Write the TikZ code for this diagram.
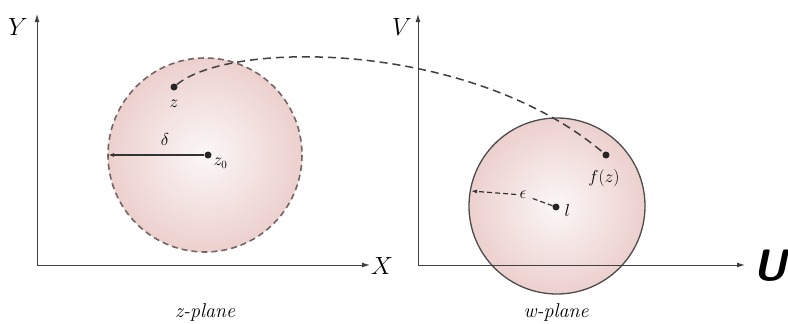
\documentclass[tikz,border=0pt]{standalone}
\usetikzlibrary{arrows.meta}
\definecolor{diskrim}{RGB}{236,208,206}
\definecolor{diskcore}{RGB}{251,247,247}
\definecolor{rimgray}{RGB}{118,100,100}
\tikzset{
	axis/.style={draw=black!75, line width=1pt, -{Latex[length=8pt,width=5pt]}},
	dot/.style={circle, fill=black!85, inner sep=0pt, minimum size=7pt},
	disk/.style={inner color=diskcore, outer color=diskrim},
	biglbl/.style={font=\fontsize{24}{26}\selectfont},
	midlbl/.style={font=\fontsize{18}{20}\selectfont},
	smalllbl/.style={font=\fontsize{16}{18}\selectfont}
}
\begin{document}
\begin{tikzpicture}[x=1pt,y=-1pt]
	\useasboundingbox (0,0) rectangle (788,324);
	% discs
	\shade[disk] (205,155) circle[radius=97];
	\draw[rimgray, line width=1.6pt, dash pattern=on 6pt off 4pt] (205,155) circle[radius=97];
	\shade[disk] (557,206) circle[radius=88];
	\draw[black!70, line width=1.3pt] (557,206) circle[radius=88];
	% axes
	\coordinate (O1) at (37,265);
	\coordinate (O2) at (418,265);
	\draw[axis] (O1) -- (37,14);
	\draw[axis] (O1) -- (370,265);
	\draw[axis] (O2) -- (418,14);
	\draw[axis] (O2) -- (745,265);
	\node[biglbl] (ylab) at (18,27) {$Y$};
	\node[biglbl] (xlab) at (382,266) {$X$};
	\node[biglbl] (vlab) at (402,27) {$V$};
	\node[font=\fontsize{44}{46}\selectfont\sffamily\bfseries\itshape] (ulab) at (770,266) {U};
	% points
	\node[dot] (z) at (174,87) {};
	\node[dot] (z0) at (208,155) {};
	\node[dot] (l) at (556,207) {};
	\node[dot] (fz) at (606,155) {};
	\node[smalllbl] (zlab) at (174,104) {$z$};
	\node[smalllbl, anchor=west] (z0lab) at (210,163) {$z_0$};
	\node[smalllbl] (dlab) at (165,139) {$\delta$};
	\node[smalllbl] (elab) at (523,195) {$\epsilon$};
	\node[smalllbl, anchor=west] (llab) at (561,210) {$l$};
	\node[midlbl] (fzlab) at (604,178) {$f(z)$};
	% radii
	\coordinate (dl) at (108,155);
	\coordinate (el) at (471,191);
	\draw[black!80, line width=1.2pt, -{Latex[length=6pt,width=4pt]}] (z0) -- (dl);
	\draw[black!80, line width=1.2pt, dash pattern=on 5pt off 3pt] (l) -- (elab);
	\draw[black!80, line width=1.2pt, dash pattern=on 5pt off 3pt, -{Latex[length=6pt,width=4pt]}] (elab) -- (el);
	% mapping curve
	\draw[black!75, line width=1.5pt, dash pattern=on 8pt off 5pt] (z) .. controls (230,40) and (470,40) .. (fz);
	% plane names
	\node[font=\fontsize{20}{22}\selectfont\itshape] (zplane) at (205,312) {z-plane};
	\node[font=\fontsize{20}{22}\selectfont\itshape] (wplane) at (556,312) {w-plane};
\end{tikzpicture}
\end{document}
